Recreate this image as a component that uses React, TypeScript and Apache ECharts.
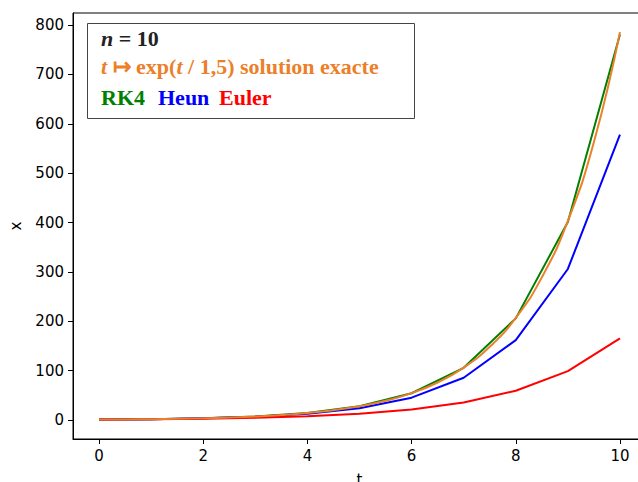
import React, { useEffect, useRef } from "react";
import * as echarts from "echarts";

const stepT = [0, 1, 2, 3, 4, 5, 6, 7, 8, 9, 10];
const rk4Values = [1, 1.9465, 3.7889, 7.375, 14.356, 27.943, 54.392, 105.87, 206.08, 401.14, 780.82];
const heunValues = [1, 1.8889, 3.5679, 6.7394, 12.73, 24.045, 45.419, 85.792, 162.05, 306.1, 578.18];
const eulerValues = [1, 1.6667, 2.7778, 4.6296, 7.716, 12.86, 21.433, 35.722, 59.537, 99.229, 165.38];
const exactT = [0, 0.5, 1, 1.5, 2, 2.5, 3, 3.5, 4, 4.5, 5, 5.5, 6, 6.5, 7, 7.5, 8, 8.5, 9, 9.5, 10];
const exactValues = [1, 1.3956, 1.9477, 2.7183, 3.7937, 5.2945, 7.3891, 10.312, 14.392, 20.086, 28.032, 39.121, 54.598, 76.197, 106.34, 148.41, 207.13, 289.07, 403.43, 563.03, 785.77];
const xTicks = [0, 2, 4, 6, 8, 10];
const yTicks = [0, 100, 200, 300, 400, 500, 600, 700, 800];

const ORANGE = "#ec7f2a";
const GREEN = "#008000";
const BLUE = "#0000ff";
const RED = "#ff0000";
const SERIF = "'Liberation Serif', 'Times New Roman', serif";
const FS = 22;
const TICK_FS = 15;

export default function App() {
  const ref = useRef<HTMLDivElement>(null);
  useEffect(() => {
    if (!ref.current) return;
    const chart = echarts.init(ref.current, null, { renderer: "svg" });
    const pair = (xs: number[], ys: number[]) => xs.map((x, i) => [x, ys[i]]);
    const line = (name: string, data: number[][], color: string, z: number, smooth = false) => ({
      name,
      type: "line",
      data,
      showSymbol: false,
      smooth,
      z,
      lineStyle: { color, width: 2 },
      itemStyle: { color },
    });
    const bold = (fill: string) => ({ fontFamily: SERIF, fontWeight: "bold", fontSize: FS, fill });
    const ital = (fill: string) => ({ fontFamily: SERIF, fontStyle: "italic", fontWeight: "bold", fontSize: FS, fill });
    chart.setOption({
      animation: false,
      backgroundColor: "#ffffff",
      textStyle: { fontFamily: "DejaVu Sans" },
      grid: {
        left: 73,
        top: 13,
        width: 573,
        height: 426,
        outerBoundsMode: "none",
        containLabel: false,
        show: true,
        borderColor: "#000",
        borderWidth: 1,
        backgroundColor: "transparent",
      },
      xAxis: {
        type: "value",
        min: -0.5,
        max: 10.5,
        name: "t",
        nameLocation: "middle",
        nameGap: 33,
        nameTextStyle: { color: "#000", fontSize: TICK_FS, fontFamily: "DejaVu Sans" },
        axisLine: { show: true, onZero: false, lineStyle: { color: "#000", width: 1 } },
        axisTick: { show: true, customValues: xTicks, length: 5, lineStyle: { color: "#000", width: 1 } },
        axisLabel: { customValues: xTicks, color: "#000", fontSize: TICK_FS, margin: 9, fontFamily: "DejaVu Sans" },
        splitLine: { show: false },
      },
      yAxis: {
        type: "value",
        min: -38.25,
        max: 824.5,
        name: "x",
        nameLocation: "middle",
        nameRotate: 90,
        nameGap: 50,
        nameTextStyle: { color: "#000", fontSize: TICK_FS, fontFamily: "DejaVu Sans" },
        axisLine: { show: true, onZero: false, lineStyle: { color: "#000", width: 1 } },
        axisTick: { show: true, customValues: yTicks, length: 5, lineStyle: { color: "#000", width: 1 } },
        axisLabel: { customValues: yTicks, color: "#000", fontSize: TICK_FS, margin: 9, fontFamily: "DejaVu Sans" },
        splitLine: { show: false },
      },
      series: [
        line("RK4", pair(stepT, rk4Values), GREEN, 2),
        line("Heun", pair(stepT, heunValues), BLUE, 3),
        line("Euler", pair(stepT, eulerValues), RED, 4),
        line("exacte", pair(exactT, exactValues), ORANGE, 5, true),
      ],
      graphic: [
        {
          type: "rect",
          shape: { x: 87.5, y: 23.5, width: 327, height: 95 },
          style: { fill: "#fff", stroke: "#444", lineWidth: 1 },
          z: 100,
        },
        {
          type: "text",
          x: 101,
          y: 38.7,
          z: 101,
          style: {
            text: "{i|n}{b| = 10}",
            verticalAlign: "middle",
            rich: { i: ital("#222"), b: bold("#222") },
          },
        },
        {
          type: "text",
          x: 101,
          y: 66.2,
          z: 101,
          style: {
            text: "{i|t}{b| ↦ exp(}{i|t}{b| / 1,5) solution exacte}",
            verticalAlign: "middle",
            rich: { i: ital(ORANGE), b: bold(ORANGE) },
          },
        },
        { type: "text", x: 101, y: 97.2, z: 101, style: { text: "RK4", ...bold(GREEN), verticalAlign: "middle" } },
        { type: "text", x: 158, y: 97.2, z: 101, style: { text: "Heun", ...bold(BLUE), verticalAlign: "middle" } },
        { type: "text", x: 219, y: 97.2, z: 101, style: { text: "Euler", ...bold(RED), verticalAlign: "middle" } },
      ],
    });
    return () => chart.dispose();
  }, []);
  return <div ref={ref} style={{ position: "fixed", left: 0, top: 0, width: 638, height: 482 }} />;
}
